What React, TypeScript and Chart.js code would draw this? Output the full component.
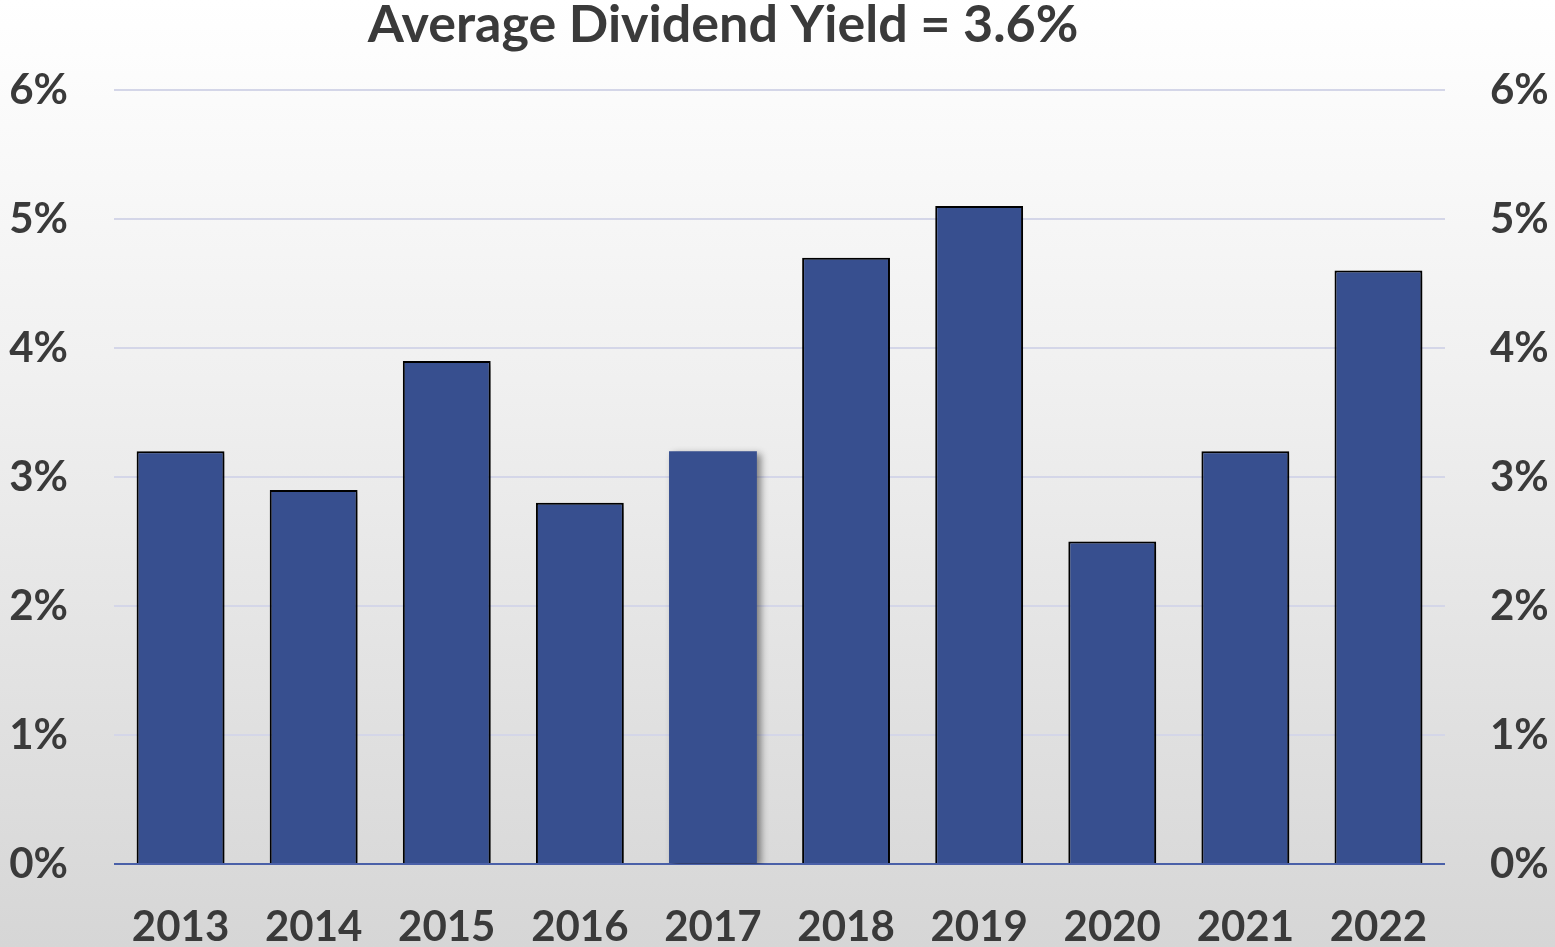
import React, { useEffect, useRef } from "react";
import { Chart, registerables } from "chart.js";

Chart.register(...registerables);

const years = ["2013", "2014", "2015", "2016", "2017", "2018", "2019", "2020", "2021", "2022"];
const yieldPct = [3.2, 2.9, 3.9, 2.8, 3.2, 4.7, 5.1, 2.5, 3.2, 4.6];
const yTicks = [0, 1, 2, 3, 4, 5, 6];
const title = "Average Dividend Yield = 3.6%";

const FONT = "Lato, 'Open Sans', sans-serif";
const TEXT = "#3a3a3a";

const shadowPlugin = {
  id: "barShadow",
  beforeDatasetsDraw(chart: any) {
    const ctx = chart.ctx;
    ctx.save();
    ctx.shadowColor = "rgba(0,0,0,0.45)";
    ctx.shadowBlur = 7;
    ctx.shadowOffsetX = 4;
    ctx.shadowOffsetY = 3;
  },
  afterDatasetsDraw(chart: any) {
    chart.ctx.restore();
  },
};

const titlePlugin = {
  id: "customTitle",
  afterDraw(chart: any) {
    const ctx = chart.ctx;
    ctx.save();
    ctx.font = `bold 52px ${FONT}`;
    ctx.fillStyle = TEXT;
    ctx.textAlign = "center";
    ctx.textBaseline = "middle";
    ctx.fillText(title, 723, 25);
    ctx.restore();
  },
};

export default function App() {
  const ref = useRef<HTMLCanvasElement>(null);

  useEffect(() => {
    if (!ref.current) return;
    const chart = new Chart(ref.current, {
      type: "bar",
      data: {
        labels: years,
        datasets: [
          {
            data: yieldPct,
            backgroundColor: "#374f8f",
            borderColor: "#000000",
            borderWidth: years.map((y) => (y === "2017" ? 0 : 2)),
            categoryPercentage: 1,
            barPercentage: 0.66,
            yAxisID: "y",
          },
        ],
      },
      options: {
        animation: false,
        responsive: false,
        maintainAspectRatio: false,
        layout: { padding: { top: 90, left: 0, right: 0, bottom: 0 } },
        plugins: {
          legend: { display: false },
          title: { display: false },
          tooltip: { enabled: false },
        },
        scales: {
          x: {
            grid: { display: false },
            border: { display: false },
            ticks: {
              color: TEXT,
              font: { family: FONT, size: 42, weight: "bold" },
              padding: 30,
            },
            afterFit: (axis: any) => {
              axis.height = 83;
            },
          },
          y: {
            position: "left",
            min: 0,
            max: 6,
            afterBuildTicks: (axis: any) => {
              axis.ticks = yTicks.map((v) => ({ value: v }));
            },
            grid: {
              drawTicks: false,
              lineWidth: 2,
              color: (c: any) => (c.tick && c.tick.value === 0 ? "#4a60a8" : "#d4d6e8"),
            },
            border: { display: false },
            ticks: {
              color: TEXT,
              font: { family: FONT, size: 42, weight: "bold" },
              padding: 46,
              callback: (v: any) => v + "%",
            },
            afterFit: (axis: any) => {
              axis.width = 114;
            },
          },
          y2: {
            position: "right",
            min: 0,
            max: 6,
            afterBuildTicks: (axis: any) => {
              axis.ticks = yTicks.map((v) => ({ value: v }));
            },
            grid: { display: false, drawTicks: false },
            border: { display: false },
            ticks: {
              color: TEXT,
              font: { family: FONT, size: 42, weight: "bold" },
              padding: 45,
              callback: (v: any) => v + "%",
            },
            afterFit: (axis: any) => {
              axis.width = 110;
            },
          },
        },
      },
      plugins: [shadowPlugin, titlePlugin],
    });
    return () => chart.destroy();
  }, []);

  return (
    <div
      style={{
        position: "fixed",
        left: 0,
        top: 0,
        width: 1555,
        height: 947,
        background: "linear-gradient(to bottom, #ffffff 0%, #f0f0f0 40%, #d6d6d6 100%)",
      }}
    >
      <canvas ref={ref} width={1555} height={947} style={{ display: "block" }} />
    </div>
  );
}
